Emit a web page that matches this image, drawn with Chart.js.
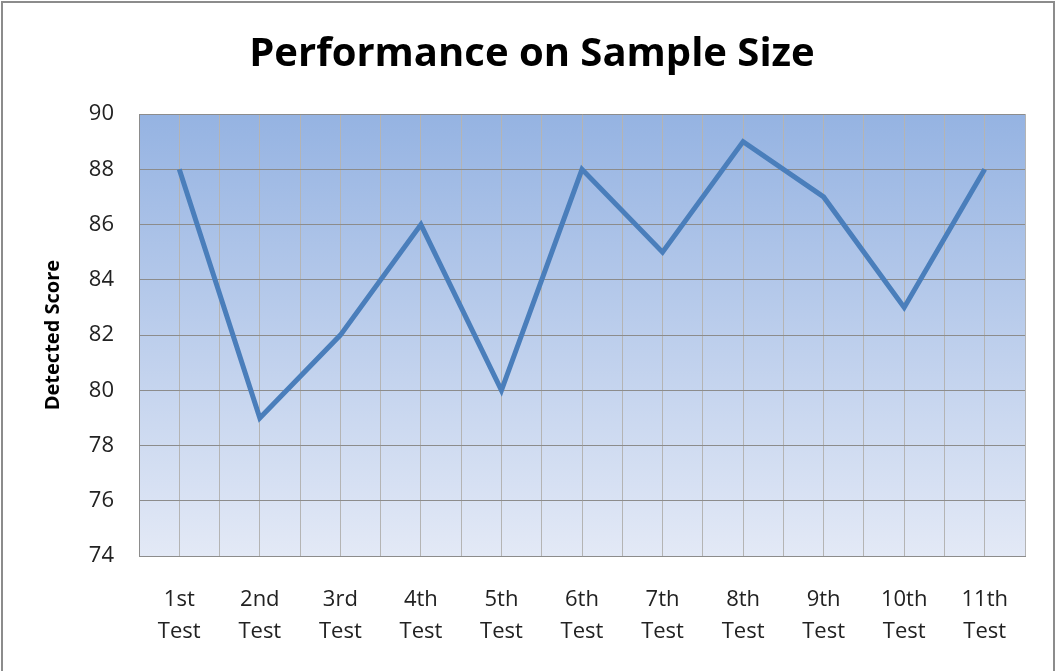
<!DOCTYPE html>
<html lang="en">
<head>
    <meta charset="UTF-8">
    <title>Performance on Sample Size</title>
    <script src="https://cdn.jsdelivr.net/npm/chart.js"></script>
    <style>
        html, body { margin: 0; padding: 0; background: #fff; }
        #wrap {
            position: absolute; left: 1px; top: 1px;
            width: 1054px; height: 680px;
            border: 2px solid #8c8c8c;
            box-sizing: border-box;
        }
        #scoreChart { position: absolute; left: 0; top: 0; }
    </style>
</head>
<body>

<div id="wrap">
    <canvas id="scoreChart" width="1050" height="676"></canvas>
</div>

<script>
    // Test runs and their detected scores
    const testNames = ['1st', '2nd', '3rd', '4th', '5th', '6th', '7th', '8th', '9th', '10th', '11th'];
    const detectedScores = [88, 79, 82, 86, 80, 88, 85, 89, 87, 83, 88];
    const yTicks = [74, 76, 78, 80, 82, 84, 86, 88, 90];

    const FONT = '"Open Sans", "Noto Sans", sans-serif';

    // Fill the plot area with a blue vertical gradient before anything else is drawn
    const plotBackground = {
        id: 'plotBackground',
        beforeDraw(chart) {
            const { ctx, chartArea: a } = chart;
            const g = ctx.createLinearGradient(0, a.top, 0, a.bottom);
            g.addColorStop(0, '#95b3e2');
            g.addColorStop(1, '#e3e9f6');
            ctx.save();
            ctx.fillStyle = g;
            ctx.fillRect(a.left, a.top, a.right - a.left, a.bottom - a.top);
            ctx.restore();
        }
    };

    const points = detectedScores.map((v, i) => ({ x: i + 1, y: v }));

    new Chart(document.getElementById('scoreChart'), {
        type: 'line',
        data: {
            datasets: [{
                data: points,
                borderColor: '#4a7ebb',
                borderWidth: 5,
                pointRadius: 0,
                tension: 0,
                fill: false
            }]
        },
        options: {
            responsive: false,
            animation: false,
            layout: { padding: { left: 24, right: 16, top: 8, bottom: 3 } },
            plugins: {
                legend: { display: false },
                tooltip: { enabled: false },
                title: {
                    display: true,
                    text: 'Performance on Sample Size',
                    color: '#000',
                    font: { family: FONT, size: 40, weight: 'bold' },
                    padding: { top: 20, bottom: 35 }
                }
            },
            scales: {
                x: {
                    type: 'linear',
                    min: 0.5,
                    max: testNames.length + 0.5,
                    border: { color: '#8c8c8c', width: 1 },
                    grid: { color: '#b4b4b4', lineWidth: 1, drawTicks: false },
                    ticks: {
                        stepSize: 0.5,
                        autoSkip: false,
                        maxTicksLimit: 100,
                        maxRotation: 0,
                        padding: 28,
                        color: '#222',
                        font: { family: FONT, size: 22, lineHeight: 1.45 },
                        callback: v => Number.isInteger(v) ? [testNames[v - 1], 'Test'] : ''
                    }
                },
                y: {
                    min: yTicks[0],
                    max: yTicks[yTicks.length - 1],
                    afterFit: axis => { axis.width = 112; },
                    border: { color: '#8c8c8c', width: 1 },
                    grid: { color: '#8c8c8c', lineWidth: 1, drawTicks: false },
                    afterBuildTicks: axis => { axis.ticks = yTicks.map(v => ({ value: v })); },
                    ticks: {
                        padding: 25,
                        color: '#222',
                        font: { family: FONT, size: 22 }
                    },
                    title: {
                        display: true,
                        text: 'Detected Score',
                        color: '#000',
                        font: { family: FONT, size: 20, weight: 'bold' },
                        padding: { top: 14, bottom: 0 }
                    }
                }
            }
        },
        plugins: [plotBackground]
    });
</script>

</body>
</html>
